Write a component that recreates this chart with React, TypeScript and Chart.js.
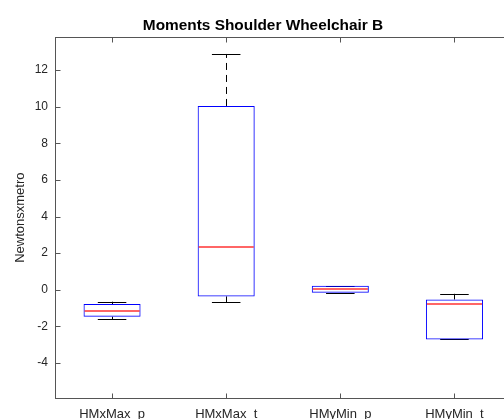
import React, { useEffect, useRef } from 'react';
import { Chart, registerables } from 'chart.js';

Chart.register(...registerables);

const titleText = 'Moments Shoulder Wheelchair B';
const yAxisLabel = 'Newtonsxmetro';
const categories = ['HMxMax_p', 'HMxMax_t', 'HMyMin_p', 'HMyMin_t'];
const q1Values = [-1.47, -0.36, -0.16, -2.71];
const q3Values = [-0.78, 10.04, 0.22, -0.53];
const medianValues = [-1.15, 2.31, 0.02, -0.75];
const whiskerLow = [-1.6, -0.69, -0.16, -2.71];
const whiskerHigh = [-0.65, 12.88, 0.22, -0.22];
const yTickValues = [-4, -2, 0, 2, 4, 6, 8, 10, 12];
const yMin = -5.91;
const yMax = 13.79;

const AXIS_COLOR = '#555555';
const TEXT_COLOR = '#262626';
const FONT = "'Liberation Sans', Arial, Helvetica, sans-serif";

const boxPlotPlugin = {
  id: 'boxPlotExtras',
  beforeDatasetsDraw(chart: any) {
    const ctx = chart.ctx;
    const y = chart.scales.y;
    const meta = chart.getDatasetMeta(0);
    ctx.save();
    ctx.strokeStyle = '#000000';
    ctx.lineWidth = 1;
    meta.data.forEach((bar: any, i: number) => {
      const cx = Math.round(bar.x) + 0.5;
      const yHi = y.getPixelForValue(whiskerHigh[i]);
      const yQ3 = y.getPixelForValue(q3Values[i]);
      const yLo = y.getPixelForValue(whiskerLow[i]);
      const yQ1 = y.getPixelForValue(q1Values[i]);
      ctx.setLineDash([7, 5]);
      ctx.beginPath();
      ctx.moveTo(cx, yQ3);
      ctx.lineTo(cx, yHi);
      ctx.moveTo(cx, yQ1);
      ctx.lineTo(cx, yLo);
      ctx.stroke();
      ctx.setLineDash([]);
      const half = bar.width / 4;
      ctx.beginPath();
      ctx.moveTo(bar.x - half, Math.round(yHi) + 0.5);
      ctx.lineTo(bar.x + half, Math.round(yHi) + 0.5);
      ctx.moveTo(bar.x - half, Math.round(yLo) + 0.5);
      ctx.lineTo(bar.x + half, Math.round(yLo) + 0.5);
      ctx.stroke();
    });
    ctx.restore();
  },
  afterDatasetsDraw(chart: any) {
    const ctx = chart.ctx;
    const y = chart.scales.y;
    const x = chart.scales.x;
    const area = chart.chartArea;
    const meta = chart.getDatasetMeta(0);
    ctx.save();
    ctx.lineWidth = 2;
    ctx.strokeStyle = 'rgba(255,0,0,0.6)';
    meta.data.forEach((bar: any, i: number) => {
      const ym = Math.round(y.getPixelForValue(medianValues[i]));
      ctx.beginPath();
      ctx.moveTo(bar.x - bar.width / 2 + 1, ym);
      ctx.lineTo(bar.x + bar.width / 2 - 1, ym);
      ctx.stroke();
    });
    // frame top & right
    ctx.lineWidth = 1;
    ctx.strokeStyle = AXIS_COLOR;
    const top = Math.round(area.top) + 0.5;
    const bottom = Math.round(area.bottom) + 0.5;
    const left = Math.round(area.left) + 0.5;
    const right = Math.round(area.right) + 0.5;
    ctx.beginPath();
    ctx.moveTo(left, top);
    ctx.lineTo(right, top);
    ctx.lineTo(right, bottom);
    ctx.stroke();
    // inward ticks
    const tl = 5;
    ctx.beginPath();
    yTickValues.forEach((v) => {
      const py = Math.round(y.getPixelForValue(v)) + 0.5;
      ctx.moveTo(left, py);
      ctx.lineTo(left + tl, py);
      ctx.moveTo(right, py);
      ctx.lineTo(right - tl, py);
    });
    categories.forEach((_, i) => {
      const px = Math.round(x.getPixelForValue(i)) + 0.5;
      ctx.moveTo(px, bottom);
      ctx.lineTo(px, bottom - tl);
      ctx.moveTo(px, top);
      ctx.lineTo(px, top + tl);
    });
    ctx.stroke();
    // title (centred on the original figure width)
    ctx.fillStyle = '#000000';
    ctx.font = `bold 15.4px ${FONT}`;
    ctx.textAlign = 'center';
    ctx.textBaseline = 'alphabetic';
    ctx.fillText(titleText, 263, 30);
    ctx.restore();
  },
};

export default function App() {
  const canvasRef = useRef<HTMLCanvasElement | null>(null);

  useEffect(() => {
    document.body.style.overflow = 'hidden';
    const canvas = canvasRef.current;
    if (!canvas) return;
    const chart = new Chart(canvas, {
      type: 'bar',
      data: {
        labels: categories,
        datasets: [
          {
            data: q1Values.map((v, i) => [v, q3Values[i]]) as any,
            backgroundColor: 'rgba(0,0,0,0)',
            borderColor: '#0000ff',
            borderWidth: 1,
            borderSkipped: false,
            barPercentage: 0.5,
            categoryPercentage: 1,
          },
        ],
      },
      options: {
        responsive: false,
        animation: false,
        devicePixelRatio: 1,
        layout: { padding: { left: 0, right: 14.5, top: 37.3, bottom: 0 } },
        plugins: {
          legend: { display: false },
          tooltip: { enabled: false },
          title: { display: false },
        },
        scales: {
          x: {
            type: 'category',
            grid: { display: true, drawOnChartArea: false, drawTicks: false },
            border: { display: true, color: AXIS_COLOR, width: 1 },
            ticks: {
              color: TEXT_COLOR,
              font: { family: FONT, size: 13 },
              padding: 9,
              maxRotation: 0,
              autoSkip: false,
            },
            afterFit: (scale: any) => {
              scale.height = 21;
            },
          },
          y: {
            type: 'linear',
            min: yMin,
            max: yMax,
            grid: { display: true, drawOnChartArea: false, drawTicks: false },
            border: { display: true, color: AXIS_COLOR, width: 1 },
            ticks: {
              color: TEXT_COLOR,
              font: { family: FONT, size: 12 },
              padding: 7,
            },
            afterBuildTicks: (scale: any) => {
              scale.ticks = yTickValues.map((v) => ({ value: v }));
            },
            afterFit: (scale: any) => {
              scale.width = 55;
            },
            title: {
              display: true,
              text: yAxisLabel,
              color: TEXT_COLOR,
              font: { family: FONT, size: 13 },
              padding: { top: 13, bottom: 0 },
            },
          },
        },
      },
      plugins: [boxPlotPlugin],
    });
    return () => chart.destroy();
  }, []);

  return (
    <div style={{ position: 'fixed', left: 0, top: 0, width: 526, height: 419, background: '#ffffff' }}>
      <canvas ref={canvasRef} width={526} height={419} />
    </div>
  );
}
